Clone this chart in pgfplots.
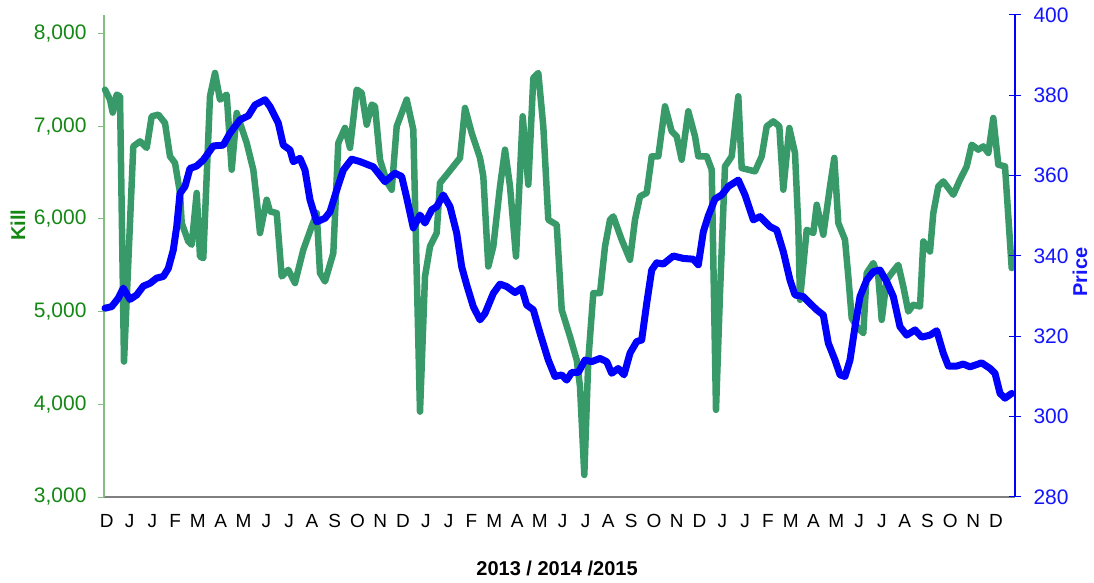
\documentclass[border=0pt]{standalone}
\usepackage{fontspec}
\setmainfont{Liberation Sans}
\usepackage{pgfplots}
\pgfplotsset{compat=1.18}
\definecolor{killline}{RGB}{56,154,104}
\definecolor{killtext}{RGB}{20,135,20}
\definecolor{killaxis}{RGB}{128,192,128}
\definecolor{pricecol}{RGB}{0,0,255}
\definecolor{pricetext}{RGB}{20,20,255}
\begin{document}
\begin{tikzpicture}
\useasboundingbox (-104pt,-86pt) rectangle (990pt,497pt);
\begin{axis}[
  at={(0,0)}, anchor=south west,
  scale only axis, width=911pt, height=482pt,
  xmin=104, xmax=1015, ymin=3000, ymax=8200,
  clip=false,
  axis lines*=left,
  x axis line style={draw=gray, line width=1.2pt},
  y axis line style={draw=killaxis, line width=1.5pt},
  xtick={106.7,129.5,...,996},
  xticklabels={D,J,J,F,M,A,M,J,J,A,S,O,N,D,J,J,F,M,A,M,J,J,A,S,O,N,D,J,J,F,M,A,M,J,J,A,S,O,N,D},
  xtick style={draw=none},
  xticklabel style={font=\fontsize{19}{22}\selectfont, text=black, yshift=-8pt},
  ytick={3000,4000,5000,6000,7000,8000},
  ytick style={draw=killaxis, line width=1pt},
  tick align=outside, major tick length=6pt,
  yticklabel style={font=\fontsize{21}{25}\selectfont, text=killtext, /pgf/number format/1000 sep={,}, xshift=-8pt},
  /pgf/number format/assume math mode=true,
  every axis y label/.style={at={(axis description cs:-0.0944,0.564)}, rotate=90, anchor=center, font=\fontsize{20}{24}\selectfont\bfseries, text=killtext},
  ylabel={Kill},
  every axis x label/.style={at={(axis description cs:0.4973,-0.149)}, anchor=center, font=\fontsize{20}{24}\selectfont\bfseries, text=black},
  xlabel={2013 / 2014 /2015},
]
\addplot[draw=killline, line width=6.5pt, line join=round, line cap=round] coordinates {
(105,7395) (110,7287) (112.7,7147) (116.7,7341) (120,7323) (124,4461) (133.3,6783) (140,6837) (146.7,6766) (151.7,7107)
(158.3,7125) (165,7035) (170,6675) (175,6604) (180,6280) (181.7,5956) (188.3,5757) (191.7,5721) (196.7,6280) (200,5594)
(203.3,5577) (210,7323) (215,7575) (220,7287) (226.7,7341) (231.7,6531) (236.7,7143) (246.7,6819) (253.3,6531) (256.7,6207)
(260,5848) (266.7,6207) (270,6081) (276.7,6063) (281.7,5379) (288.3,5451) (295,5308) (303.3,5667) (311.7,5919) (316.7,6063)
(320,5416) (325,5325) (333.3,5631) (338.3,6819) (345,6982) (350,6766) (356.7,7395) (361.7,7359) (366.7,7017) (371.7,7233)
(375,7215) (380,6639) (386.7,6405) (391.7,6315) (396.7,6999) (406.7,7287) (413.3,6963) (420,3921) (425,5379) (430,5703)
(436.7,5848) (440,6388) (446.7,6477) (453.3,6567) (460,6658) (465,7197) (471.7,6927) (480,6658) (483.3,6459) (488.3,5487)
(493.3,5703) (500,6351) (505,6747) (510,6351) (516,5594) (522.7,7107) (528.3,6369) (533.3,7521) (538.3,7575) (543.3,6999)
(548.3,5991) (556.7,5937) (561.7,5020) (570,4731) (576.7,4479) (580,4191) (584.3,3238) (588.3,4479) (593.3,5200) (600,5200)
(605,5703) (610,5991) (613.3,6027) (621.7,5775) (630,5559) (635,5991) (640,6243) (646.7,6280) (651.7,6675) (658.3,6675)
(665,7215) (671.7,6945) (676.7,6891) (681.7,6639) (688.3,7161) (695,6891) (698.3,6675) (706.7,6675) (711.7,6531) (716,3940)
(720,5200) (725,6567) (731.7,6675) (738.3,7323) (741.7,6549) (748.3,6531) (755,6513) (761.7,6675) (766.7,6999) (773.3,7053)
(779.3,6999) (783.3,6315) (789.3,6981) (795,6711) (798.3,5919) (800,5127) (806.7,5883) (813.3,5848) (816.7,6153) (823.3,5829)
(830,6351) (834.3,6658) (838.3,5956) (845,5775) (848.3,5379) (851.7,4930) (856.7,4839) (863.3,4767) (866.7,5416) (873.3,5524)
(878.3,5379) (881.7,4911) (886.7,5343) (891.7,5416) (898.3,5505) (903.3,5271) (908.3,5001) (913.3,5073) (920,5055) (923.3,5757)
(930,5649) (933.3,6063) (938.3,6351) (943.3,6405) (953.3,6261) (960,6423) (966.7,6567) (971.7,6801) (978.3,6747) (983.3,6783)
(988.3,6711) (993.3,7089) (998.3,6585) (1005,6567) (1011.7,5470)
};
\end{axis}
\begin{axis}[
  at={(0,0)}, anchor=south west,
  scale only axis, width=911pt, height=482pt,
  xmin=104, xmax=1015, ymin=280, ymax=400,
  clip=false,
  axis x line=none, axis y line*=right,
  y axis line style={draw=pricecol, line width=1.2pt},
  ytick={280,300,320,340,360,380,400},
  ytick style={draw=pricecol, line width=1pt},
  tick align=center, major tick length=12pt,
  yticklabel style={font=\fontsize{21}{25}\selectfont, text=pricetext, xshift=9pt},
  /pgf/number format/assume math mode=true,
  every axis y label/.style={at={(axis description cs:1.0713,0.467)}, rotate=90, anchor=center, font=\fontsize{20}{24}\selectfont\bfseries, text=pricetext},
  ylabel={Price},
]
\addplot[draw=pricecol, line width=7pt, line join=round, line cap=round] coordinates {
(105,327.0) (111.7,327.4) (118.3,329.5) (123.3,332.0) (130,329.2) (136.7,330.3) (143.3,332.5) (150,333.2) (156.7,334.5) (163.3,334.9)
(168.3,336.9) (173.3,341.5) (176.7,347.3) (180,355.6) (185,357.3) (190,361.8) (196.7,362.4) (203.3,363.9) (213.3,367.4) (223.3,367.6)
(230,370.6) (240,373.9) (248.3,374.9) (255,377.6) (265,378.9) (270,377.2) (278.3,373.1) (283.3,367.6) (290,366.4) (293.3,363.5)
(300,364.3) (305,361.4) (310,354.0) (316.7,348.5) (325,349.4) (330,351.0) (336.7,356.4) (343.3,361.4) (351.7,364.1) (360,363.5)
(373.3,362.2) (385,358.5) (395,360.6) (401.7,359.8) (406.7,354.5) (413.3,347.0) (420,350.2) (425,348.2) (431.7,351.5) (436.7,352.3)
(443.3,355.2) (450,352.3) (456.7,345.7) (461.7,337.3) (466.7,332.8) (473.3,327.4) (480,324.1) (485,325.7) (493.3,330.7) (500,333.0)
(506.7,332.4) (515,330.9) (521.7,332.0) (526.7,327.8) (533.3,326.6) (540,320.8) (548.3,314.1) (555,310.0) (561.7,310.4) (566.7,309.1)
(571.7,311.0) (578.3,311.0) (585,314.1) (591.7,313.7) (600,314.5) (606.7,313.7) (611.7,310.8) (618.3,312.0) (624,310.4) (630,315.8)
(636.7,318.7) (641.7,319.1) (646.7,328.2) (651.7,336.5) (656.7,338.3) (663.3,338.0) (673.3,340.0) (683.3,339.4) (693.3,339.2) (698.3,337.8)
(703.3,346.0) (708.3,350.0) (715,354.2) (721.7,355.2) (728.3,357.3) (738.3,358.9) (745,355.2) (753.3,349.0) (760,349.8) (770,347.3)
(776.7,346.5) (783.3,341.1) (790,334.0) (795,330.3) (803.3,329.9) (810,328.2) (816.7,326.6) (823.3,325.3) (828.3,318.3) (835,314.1)
(840,310.4) (845,310.0) (850,314.1) (855,322.4) (860,329.9) (866.7,334.0) (873.3,336.1) (880,336.5) (886.7,333.6) (893.3,329.9)
(900,322.4) (906.7,320.3) (915,321.6) (921.7,319.8) (930,320.3) (936.7,321.4) (943.3,315.8) (948.3,312.6) (956.7,312.6) (963.3,313.1)
(970,312.4) (981.7,313.4) (990,312.0) (995,310.8) (1000,305.8) (1005,304.6) (1011.7,305.8)
};
\end{axis}
\end{tikzpicture}
\end{document}
